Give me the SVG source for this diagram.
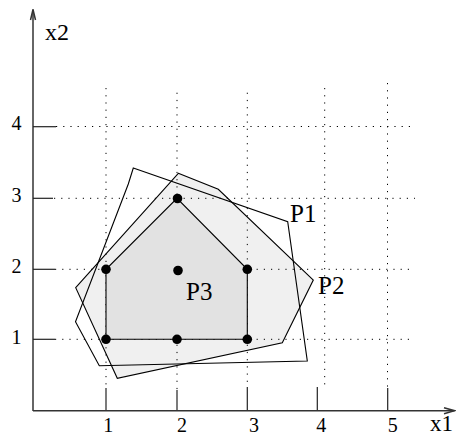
<svg xmlns="http://www.w3.org/2000/svg" width="456" height="436" viewBox="0 0 456 436">
<defs>
<style>
.grid{stroke:#000;stroke-width:1;stroke-dasharray:1.2 6;fill:none}
.tick{stroke:#222;stroke-width:1.2;fill:none}
.axis{stroke:#333;stroke-width:1.5;fill:none}
.poly{stroke:#000;stroke-width:1.1;stroke-linejoin:miter}
.lbl{font-family:"Liberation Serif","Times New Roman",serif;fill:#000}
.num{font-size:20px;text-anchor:middle}
.plbl{font-size:25px}
.dot{fill:#000}
</style>
</defs>
<rect width="456" height="436" fill="#fff"/>
<g id="P2-fill"><polygon points="178.3,173.3 218.3,189.3 313.3,280 282.3,342.7 117.3,378.3 75.7,287.7" fill="#f0f0f0" stroke="none"/></g>
<g id="grid">
<line class="grid" x1="56" y1="126.5" x2="415" y2="126.5"/>
<line class="grid" x1="54" y1="198.3" x2="415" y2="198.3"/>
<line class="grid" x1="55" y1="269.3" x2="414" y2="269.3"/>
<line class="grid" x1="55" y1="339.3" x2="413" y2="339.3"/>
<line class="grid" x1="106" y1="88" x2="106" y2="388"/>
<line class="grid" x1="177" y1="92.7" x2="177" y2="390"/>
<line class="grid" x1="247.3" y1="92.7" x2="247.3" y2="387"/>
<line class="grid" x1="324.7" y1="88" x2="324.7" y2="389"/>
<line class="grid" x1="387.5" y1="83" x2="387.5" y2="388"/>
</g>
<g id="P2"><polygon class="poly" points="178.3,173.3 218.3,189.3 313.3,280 282.3,342.7 117.3,378.3 75.7,287.7" fill="none"/></g>
<g id="P1"><polygon class="poly" points="133.3,168 287.7,221.7 307.3,361 99.3,365.7 75.5,321.7 128.3,184" fill="none"/></g>
<g id="P3"><polygon class="poly" points="106,339.3 106,269.3 177,198.3 247.3,269.3 247.3,339.3" fill="#e2e2e2"/></g>
<g id="axes">
<line class="axis" x1="33" y1="411" x2="33" y2="9.5"/>
<polyline class="axis" points="30.5,20 33,9.5 35.5,20"/>
<line class="axis" x1="33" y1="410.7" x2="454.5" y2="410.7"/>
<polyline class="axis" points="444,407.7 454.5,410.7 444,413.7"/>
<line class="tick" x1="33" y1="126.7" x2="56" y2="126.7"/>
<line class="tick" x1="33" y1="198.3" x2="53" y2="198.3"/>
<line class="tick" x1="33" y1="269.3" x2="55" y2="269.3"/>
<line class="tick" x1="33" y1="339.3" x2="55" y2="339.3"/>
<line class="tick" x1="106" y1="388" x2="106" y2="410"/>
<line class="tick" x1="177" y1="390" x2="177" y2="410"/>
<line class="tick" x1="247.3" y1="387" x2="247.3" y2="410"/>
<line class="tick" x1="317.3" y1="387" x2="317.3" y2="410"/>
<line class="tick" x1="387.7" y1="388" x2="387.7" y2="410"/>
</g>
<g id="points">
<circle class="dot" cx="106" cy="339.3" r="4.8"/>
<circle class="dot" cx="177" cy="339.3" r="4.8"/>
<circle class="dot" cx="247.3" cy="339.3" r="4.8"/>
<circle class="dot" cx="106" cy="269.3" r="4.8"/>
<circle class="dot" cx="178" cy="270.5" r="4.8"/>
<circle class="dot" cx="247.3" cy="269.3" r="4.8"/>
<circle class="dot" cx="177.5" cy="198.5" r="4.8"/>
</g>
<g id="labels">
<text class="lbl" x="45" y="39.5" font-size="24">x2</text>
<text class="lbl" x="430" y="431" font-size="23">x1</text>
<text class="lbl plbl" x="290" y="222">P1</text>
<text class="lbl plbl" x="318" y="294">P2</text>
<text class="lbl plbl" x="186" y="300">P3</text>
<text class="lbl num" x="16.5" y="129.5">4</text>
<text class="lbl num" x="16.5" y="201.5">3</text>
<text class="lbl num" x="16.5" y="273">2</text>
<text class="lbl num" x="16.5" y="344">1</text>
<text class="lbl num" x="108.3" y="431.5">1</text>
<text class="lbl num" x="182" y="431.5">2</text>
<text class="lbl num" x="254" y="431.5">3</text>
<text class="lbl num" x="321.3" y="431.5">4</text>
<text class="lbl num" x="392.7" y="431.5">5</text>
</g>
</svg>
